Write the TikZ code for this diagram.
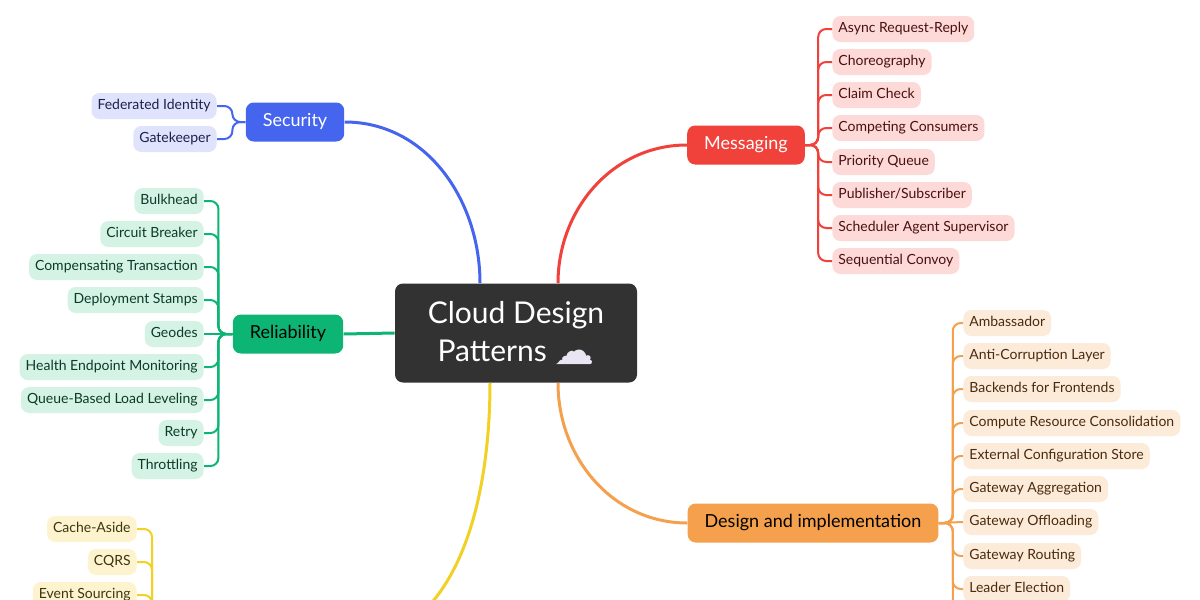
\documentclass[tikz,border=0pt]{standalone}
\usepackage{fontspec}
\setmainfont{Lato}
\newfontfamily\symbfont{DejaVu Sans}
\usepackage{tikz}
\definecolor{secblue}{HTML}{4565EF}
\definecolor{secpale}{HTML}{DFE3FB}
\definecolor{sectext}{HTML}{1B2150}
\definecolor{msgred}{HTML}{F0413A}
\definecolor{msgpale}{HTML}{FDD9D8}
\definecolor{msgtext}{HTML}{4A1010}
\definecolor{relgreen}{HTML}{0DB574}
\definecolor{relpale}{HTML}{D4F3E5}
\definecolor{reltext}{HTML}{0B3B28}
\definecolor{diorange}{HTML}{F4A04C}
\definecolor{dipale}{HTML}{FDEBD9}
\definecolor{ditext}{HTML}{4A2A10}
\definecolor{dmyellow}{HTML}{F2D024}
\definecolor{dmpale}{HTML}{FDF4CF}
\definecolor{dmtext}{HTML}{3D3510}
\definecolor{centre}{HTML}{323232}
\definecolor{cloud}{HTML}{E9E5F3}
\tikzset{
  topic/.style={rounded corners=4pt, text height=6.8pt, text depth=1.9pt, inner xsep=8.5pt, inner ysep=5.4pt, font=\fontsize{9}{10}\selectfont},
  leaf/.style={rounded corners=4pt, text height=5.3pt, text depth=1.5pt, inner xsep=3pt, inner ysep=3.1pt, font=\fontsize{7}{8}\selectfont},
  mainline/.style={line width=1.5pt},
  wire/.style={line width=1pt, rounded corners=4pt},
  secleaf/.style={leaf, fill=secpale, text=sectext, anchor=east},
  relleaf/.style={leaf, fill=relpale, text=reltext, anchor=east},
  dmleaf/.style={leaf, fill=dmpale, text=dmtext, anchor=east},
  msgleaf/.style={leaf, fill=msgpale, text=msgtext, anchor=west},
  dileaf/.style={leaf, fill=dipale, text=ditext, anchor=west}
}

\begin{document}
\begin{tikzpicture}[x=0.5pt, y=-0.5pt]
\useasboundingbox (0,0) rectangle (1200,600);
\clip (0,0) rectangle (1200,600);
\fill[white] (0,0) rectangle (1200,600);

% centre and topics
\node (cdp) at (516,333) [rounded corners=4pt, fill=centre, text=white, minimum width=121pt, minimum height=49.5pt, align=center, font=\fontsize{15}{19}\selectfont] {Cloud Design\\Patterns {\symbfont\fontsize{20}{20}\selectfont\textcolor{cloud}{\raisebox{-1.2pt}{☁}}}};
\node (sec) at (295,122) [topic, fill=secblue, text=white] {Security};
\node (msg) at (746,145) [topic, fill=msgred, text=white] {Messaging};
\node (rel) at (288,334) [topic, fill=relgreen, text=black] {Reliability};
\node (di)  at (813,523) [topic, fill=diorange, text=black] {Design and implementation};
\coordinate (dme) at (340,645);
\coordinate (dmw) at (165,645);

% security
\node (s1) at (217,106) [secleaf] {Federated Identity};
\node (s2) at (217,139) [secleaf] {Gatekeeper};

% reliability
\node (r1) at (204,201) [relleaf] {Bulkhead};
\node (r2) at (204,234) [relleaf] {Circuit Breaker};
\node (r3) at (204,267) [relleaf] {Compensating Transaction};
\node (r4) at (204,300) [relleaf] {Deployment Stamps};
\node (r5) at (204,334) [relleaf] {Geodes};
\node (r6) at (204,367) [relleaf] {Health Endpoint Monitoring};
\node (r7) at (204,400) [relleaf] {Queue-Based Load Leveling};
\node (r8) at (204,433) [relleaf] {Retry};
\node (r9) at (204,466) [relleaf] {Throttling};

% data
\node (d1) at (137,529) [dmleaf] {Cache-Aside};
\node (d2) at (137,562) [dmleaf] {CQRS};
\node (d3) at (137,595) [dmleaf] {Event Sourcing};
\coordinate (dmend) at (137,760);

% messaging
\node (m1) at (832,29)  [msgleaf] {Async Request-Reply};
\node (m2) at (832,62)  [msgleaf] {Choreography};
\node (m3) at (832,95)  [msgleaf] {Claim Check};
\node (m4) at (832,128) [msgleaf] {Competing Consumers};
\node (m5) at (832,162) [msgleaf] {Priority Queue};
\node (m6) at (832,195) [msgleaf] {Publisher/Subscriber};
\node (m7) at (832,228) [msgleaf] {Scheduler Agent Supervisor};
\node (m8) at (832,261) [msgleaf] {Sequential Convoy};

% design and implementation
\node (i1) at (963,323) [dileaf] {Ambassador};
\node (i2) at (963,356) [dileaf] {Anti-Corruption Layer};
\node (i3) at (963,389) [dileaf] {Backends for Frontends};
\node (i4) at (963,423) [dileaf] {Compute Resource Consolidation};
\node (i5) at (963,456) [dileaf] {External Configuration Store};
\node (i6) at (963,489) [dileaf] {Gateway Aggregation};
\node (i7) at (963,522) [dileaf] {Gateway Offloading};
\node (i8) at (963,556) [dileaf] {Gateway Routing};
\node (i9) at (963,589) [dileaf] {Leader Election};
\coordinate (diend) at (963,722);

% main branches
\draw[mainline, secblue] (sec.east) to[out=0, in=90] ([xshift=-18pt]cdp.north);
\draw[mainline, msgred] ([xshift=21pt]cdp.north) to[out=90, in=180] (msg.west);
\draw[mainline, relgreen] (rel.east) to (cdp.west);
\draw[mainline, diorange] ([xshift=21pt]cdp.south) to[out=-90, in=180] (di.west);
\draw[mainline, dmyellow] ([xshift=-13pt]cdp.south) to[out=-90, in=0] (dme);

% leaves
\draw[wire, secblue] (sec.west) -- ++(-13,0) |- (s1.east);
\draw[wire, secblue] (sec.west) -- ++(-13,0) |- (s2.east);
\draw[wire, relgreen] (rel.west) -- ++(-14,0) |- (r1.east);
\draw[wire, relgreen] (rel.west) -- ++(-14,0) |- (r2.east);
\draw[wire, relgreen] (rel.west) -- ++(-14,0) |- (r3.east);
\draw[wire, relgreen] (rel.west) -- ++(-14,0) |- (r4.east);
\draw[wire, relgreen] (rel.west) -- (r5.east);
\draw[wire, relgreen] (rel.west) -- ++(-14,0) |- (r6.east);
\draw[wire, relgreen] (rel.west) -- ++(-14,0) |- (r7.east);
\draw[wire, relgreen] (rel.west) -- ++(-14,0) |- (r8.east);
\draw[wire, relgreen] (rel.west) -- ++(-14,0) |- (r9.east);
\draw[wire, dmyellow] (dmw) -- ++(-13,0) |- (d1.east);
\draw[wire, dmyellow] (dmw) -- ++(-13,0) |- (d2.east);
\draw[wire, dmyellow] (dmw) -- ++(-13,0) |- (d3.east);
\draw[wire, dmyellow] (dmw) -- ++(-13,0) |- (dmend);
\draw[wire, msgred] (msg.east) -- ++(13,0) |- (m1.west);
\draw[wire, msgred] (msg.east) -- ++(13,0) |- (m2.west);
\draw[wire, msgred] (msg.east) -- ++(13,0) |- (m3.west);
\draw[wire, msgred] (msg.east) -- ++(13,0) |- (m4.west);
\draw[wire, msgred] (msg.east) -- ++(13,0) |- (m5.west);
\draw[wire, msgred] (msg.east) -- ++(13,0) |- (m6.west);
\draw[wire, msgred] (msg.east) -- ++(13,0) |- (m7.west);
\draw[wire, msgred] (msg.east) -- ++(13,0) |- (m8.west);
\draw[wire, diorange] (di.east) -- ++(14,0) |- (i1.west);
\draw[wire, diorange] (di.east) -- ++(14,0) |- (i2.west);
\draw[wire, diorange] (di.east) -- ++(14,0) |- (i3.west);
\draw[wire, diorange] (di.east) -- ++(14,0) |- (i4.west);
\draw[wire, diorange] (di.east) -- ++(14,0) |- (i5.west);
\draw[wire, diorange] (di.east) -- ++(14,0) |- (i6.west);
\draw[wire, diorange] (di.east) -- (i7.west);
\draw[wire, diorange] (di.east) -- ++(14,0) |- (i8.west);
\draw[wire, diorange] (di.east) -- ++(14,0) |- (i9.west);
\draw[wire, diorange] (di.east) -- ++(14,0) |- (diend);
\end{tikzpicture}
\end{document}
